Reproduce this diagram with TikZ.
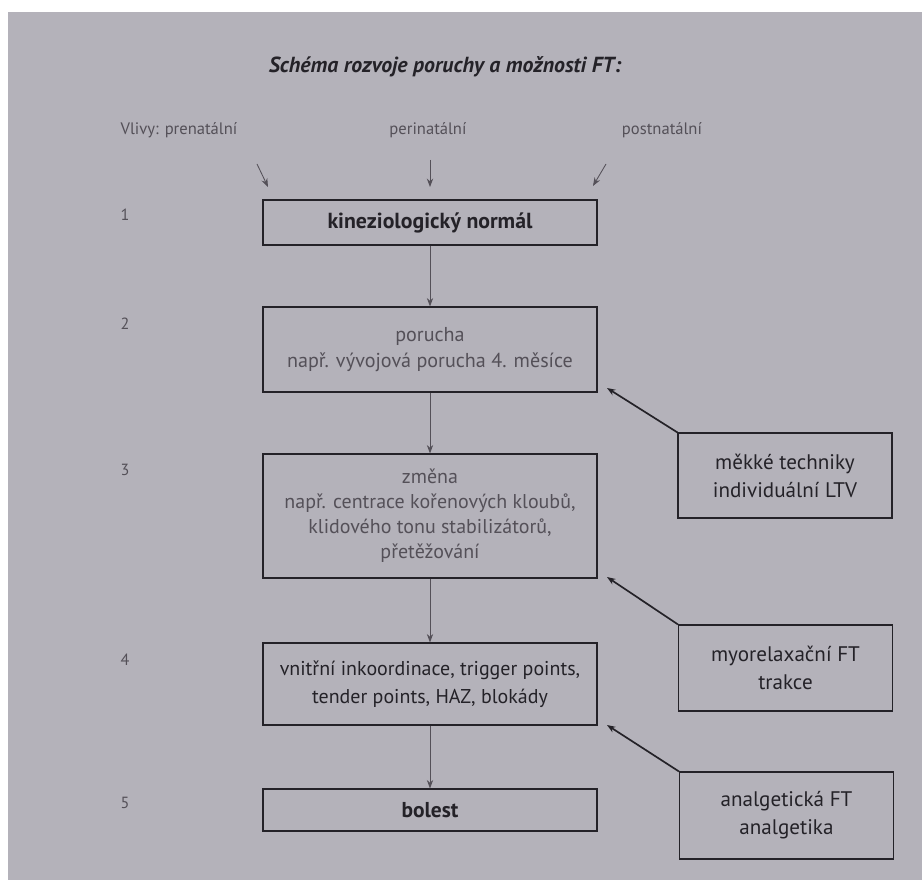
\documentclass[tikz,border=0pt]{standalone}
\usepackage{fontspec}
\setmainfont{PT Sans}
\usetikzlibrary{arrows.meta}
\definecolor{page}{RGB}{180,178,186}
\definecolor{ink}{RGB}{36,34,40}
\definecolor{fade}{RGB}{84,80,88}

\begin{document}
\begin{tikzpicture}[x=0.025cm,y=-0.025cm,
  >={Stealth[length=6pt,width=4.5pt]},
  box/.style={draw=ink,line width=0.8pt,minimum width=8.35cm,align=center,inner sep=2pt},
  side/.style={draw=ink,line width=0.8pt,minimum width=5.35cm,align=center,text=ink,
    font=\fontsize{15}{20}\selectfont},
  num/.style={text=fade,font=\fontsize{11.5}{13}\selectfont},
  vliv/.style={text=fade,font=\fontsize{11.8}{13}\selectfont}]

\fill[white] (0,0) rectangle (922,880);
\fill[page] (8,12) rectangle (922,880);

\node[text=ink,font=\fontsize{15.5}{18}\selectfont\bfseries\itshape] (title) at (445,67) {Schéma rozvoje poruchy a možnosti FT:};

\node[vliv] (pre) at (179,130) {Vlivy: prenatální};
\node[vliv] (peri) at (428,130) {perinatální};
\node[vliv] (post) at (662,130) {postnatální};

\node[num] (n1) at (125,215) {1};
\node[num] (n2) at (125,324) {2};
\node[num] (n3) at (125,470) {3};
\node[num] (n4) at (125,660) {4};
\node[num] (n5) at (125,803) {5};

\node[box,minimum height=1.125cm,text=ink,font=\fontsize{15.5}{18}\selectfont\bfseries] (b1) at (430,222.5) {kineziologický normál};
\node[box,minimum height=2.125cm,text=fade,font=\fontsize{14.3}{19}\selectfont] (b2) at (430,349.5)
  {porucha\\např. vývojová porucha 4. měsíce};
\node[box,minimum height=3.1cm,text=fade,font=\fontsize{14.2}{17.8}\selectfont] (b3) at (430,516)
  {změna\\např. centrace kořenových kloubů,\\klidového tonu stabilizátorů,\\přetěžování};
\node[box,minimum height=2.05cm,text=ink,font=\fontsize{14.2}{20}\selectfont] (b4) at (430,684)
  {vnitřní inkoordinace, trigger points,\\tender points, HAZ, blokády};
\node[box,minimum height=1.05cm,text=ink,font=\fontsize{15.3}{17}\selectfont\bfseries] (b5) at (430,810) {bolest};

\node[side,minimum height=2.125cm] (r1) at (785,475.5) {měkké techniky\\individuální LTV};
\node[side,minimum height=2.15cm] (r2) at (785.5,668) {myorelaxační FT\\trakce};
\node[side,minimum height=2.175cm] (r3) at (786.5,815.5) {analgetická FT\\analgetika};

% vlivy
\coordinate (a1) at (268,187);
\coordinate (a2) at (430,187);
\coordinate (a3) at (593,186);
\draw[->,fade,line width=0.6pt] (257,164) -- (a1);
\draw[->,fade,line width=0.6pt] (430,160) -- (a2);
\draw[->,fade,line width=0.6pt] (606,164) -- (a3);

% hlavni osa
\draw[->,fade,line width=0.6pt] (b1) -- (b2);
\draw[->,fade,line width=0.6pt] (b2) -- (b3);
\draw[->,fade,line width=0.6pt] (b3) -- (b4);
\draw[->,fade,line width=0.6pt] (b4) -- (b5);

% moznosti FT
\coordinate (t2) at (607,388);
\coordinate (t3) at (607,577);
\coordinate (t4) at (607,725);
\draw[->,ink,line width=1.2pt] (r1.north west) -- (t2);
\draw[->,ink,line width=1.2pt] (r2.north west) -- (t3);
\draw[->,ink,line width=1.2pt] (r3.north west) -- (t4);

\end{tikzpicture}
\end{document}
